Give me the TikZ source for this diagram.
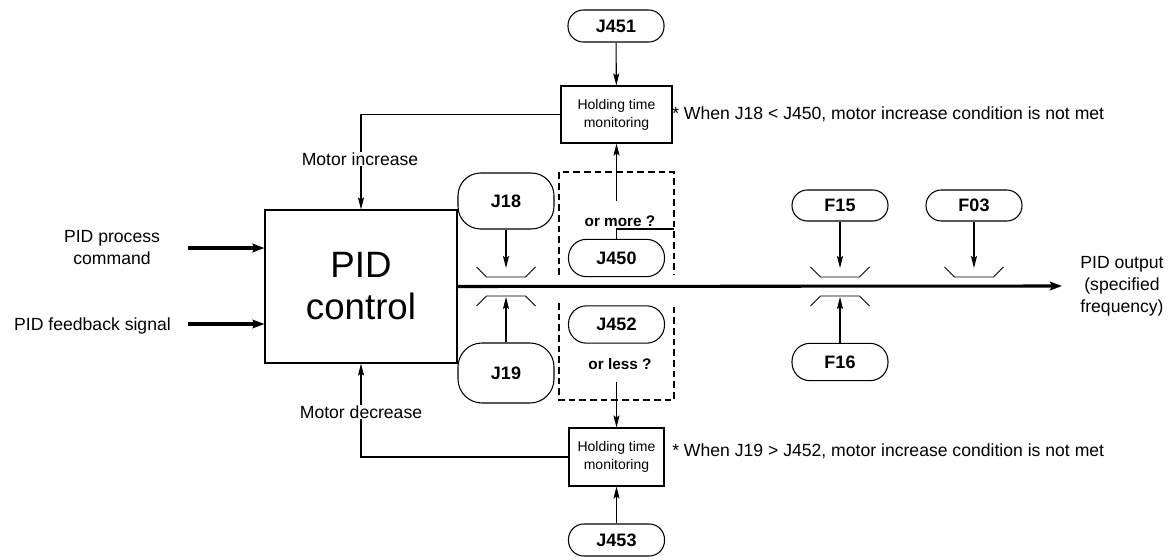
\documentclass[tikz,border=0pt]{standalone}
\usepackage{fontspec}
\setmainfont{Liberation Sans}
\usetikzlibrary{arrows.meta}
\begin{document}
\begin{tikzpicture}[x=0.75pt,y=-0.75pt,
  thin line/.style={line width=0.8pt},
  arr/.style={thin line,-{Stealth[length=9pt,width=4.5pt,inset=1.5pt]}},
  bigarr/.style={line width=2.3pt,-{Stealth[length=9pt,width=6.5pt,inset=1.5pt]}},
  pbox/.style={draw,thin line,rounded corners=11.5pt,minimum width=72pt,minimum height=24pt,inner sep=0pt,font=\fontsize{13.5}{16}\selectfont\bfseries},
  tallbox/.style={pbox,rounded corners=17pt,minimum height=42pt},
  midbox/.style={pbox,rounded corners=13.5pt,minimum height=28pt},
  holdbox/.style={draw,thin line,align=center,inner sep=0pt,font=\fontsize{10.5}{13.5}\selectfont},
  lbl/.style={font=\fontsize{13.2}{16.5}\selectfont,align=center,inner sep=0.5pt},
  qlbl/.style={font=\fontsize{11.5}{14}\selectfont\bfseries,inner sep=0pt},
  dash box/.style={thin line,dash pattern=on 5pt off 3pt},
  limiter/.style={line width=0.7pt}
]
\useasboundingbox (0,0) rectangle (1172,560);

% main block
\node[draw,thin line,minimum width=144pt,minimum height=114.75pt,align=center,inner sep=0pt,
      font=\fontsize{27.5}{31.5}\selectfont] (pid) at (361,286.5) {PID\\control};

% inputs
\node[lbl] (cmd) at (112,248) {PID process\\command};
\node[lbl] (fb) at (92.5,326) {PID feedback signal};
\coordinate (in1) at (188,248);
\coordinate (in2) at (188,324);
\draw[bigarr] (in1) -- (pid.west |- in1);
\draw[bigarr] (in2) -- (pid.west |- in2);

% holding time boxes
\node[holdbox,minimum width=83.25pt,minimum height=42.75pt] (hold1) at (616.5,114.5) {Holding time\\monitoring};
\node[holdbox,minimum width=71.25pt,minimum height=43.5pt] (hold2) at (616.5,457) {Holding time\\monitoring};

\node[pbox] (j451) at (616,26) {J451};
\node[pbox] (j453) at (616.5,540) {J453};
\draw[arr] (j451) -- (hold1);
\draw[arr] (j453) -- (hold2);

% motor increase / decrease
\coordinate (c1) at (pid.north |- hold1.west);
\coordinate (c2) at (pid.south |- hold2.west);
\draw[arr] (hold1.west) -- (c1) -- (pid.north);
\draw[arr] (hold2.west) -- (c2) -- (pid.south);
\node[lbl,fill=white] (minc) at (360,159) {Motor increase};
\node[lbl,fill=white] (mdec) at (361,412) {Motor decrease};

% notes
\node[lbl,anchor=west,inner sep=0pt] (note1) at (672,114) {* When J18 < J450, motor increase condition is not met};
\node[lbl,anchor=west,inner sep=0pt] (note2) at (672,451) {* When J19 > J452, motor increase condition is not met};

% dashed comparison area
\draw[dash box] (559,275) -- (559,172) -- (674,172) -- (674,275);
\draw[dash box] (559,303) -- (559,400) -- (674,400) -- (674,303);
\node[qlbl] (ormore) at (620,221) {or more ?};
\node[qlbl] (orless) at (620,364) {or less ?};
\node[midbox] (j450) at (616.5,258) {J450};
\node[midbox] (j452) at (616.5,324.5) {J452};
\coordinate (a1) at (616.5,201);
\coordinate (a2) at (616.5,382);
\coordinate (dashR) at (674,229);
\draw[arr] (a1) -- (hold1.south);
\draw[arr] (a2) -- (hold2.north);
\draw[thin line] (j450.north) |- (dashR);

% limit parameters
\node[tallbox] (j18) at (506,201) {J18};
\node[tallbox,minimum height=45pt,rounded corners=18pt] (j19) at (506,373) {J19};
\node[pbox,minimum height=23.25pt] (f15) at (840,205.5) {F15};
\node[pbox,minimum height=23.25pt] (f03) at (974,205.5) {F03};
\node[midbox] (f16) at (840,362) {F16};

\coordinate (t18) at (506,268);
\coordinate (t19) at (506,297);
\coordinate (t15) at (840,268);
\coordinate (t03) at (974,268);
\coordinate (t16) at (840,297);
\draw[arr] (j18) -- (t18);
\draw[arr] (j19) -- (t19);
\draw[arr] (f15) -- (t15);
\draw[arr] (f03) -- (t03);
\draw[arr] (f16) -- (t16);

\foreach \c in {506,840,974}{
  \draw[limiter] (\c-29.5,267) -- (\c-19.5,277) -- (\c+19.5,277) -- (\c+29.5,267);
}
\foreach \c in {506,840}{
  \draw[limiter] (\c-29.5,306) -- (\c-19.5,296) -- (\c+19.5,296) -- (\c+29.5,306);
}

% output
\node[lbl] (out) at (1122,286) {PID output\\(specified\\frequency)};
\coordinate (outtip) at (1062,286);
\draw[bigarr] (pid.east) -- (outtip);
\end{tikzpicture}
\end{document}
